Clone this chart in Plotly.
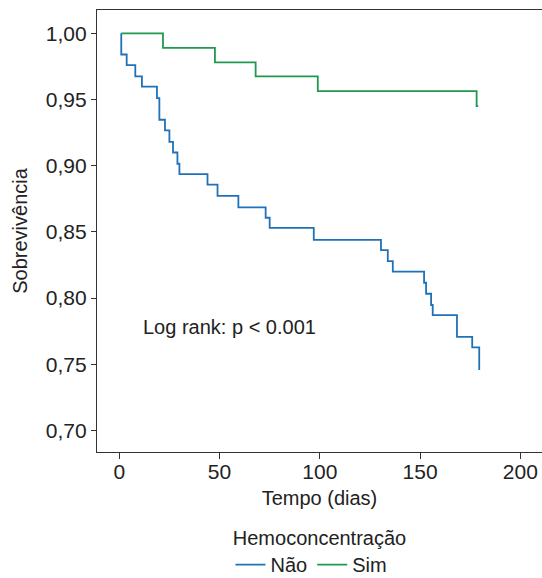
import plotly.graph_objects as go

# Kaplan-Meier step data (days, survival)
nao_t = [1, 1, 3.7, 8, 11.3, 18.8, 20, 22.8, 25, 26.8, 29, 30, 44, 49, 59.4, 73, 75, 97,
         130.5, 133.9, 136.4, 152, 153, 155.5, 156.3, 168.4, 176, 179.5, 179.5]
nao_s = [1.0, 0.984, 0.976, 0.9675, 0.9597, 0.951, 0.9347, 0.9267, 0.918, 0.910, 0.9015,
         0.8937, 0.8857, 0.8773, 0.8686, 0.8607, 0.853, 0.844, 0.8363, 0.828, 0.820,
         0.8116, 0.8033, 0.7948, 0.7872, 0.7708, 0.7628, 0.7457, 0.7457]

sim_t = [1, 21.8, 47.7, 68, 99, 178.2, 179]
sim_s = [1.0, 0.989, 0.978, 0.9675, 0.9564, 0.945, 0.945]

x_ticks = [0, 50, 100, 150, 200]
y_ticks = [0.70, 0.75, 0.80, 0.85, 0.90, 0.95, 1.00]
y_labels = ["0,70", "0,75", "0,80", "0,85", "0,90", "0,95", "1,00"]

FONT = "Liberation Sans, Arial, sans-serif"
TXT = "#222222"

fig = go.Figure()
fig.add_trace(go.Scatter(x=nao_t, y=nao_s, mode="lines", name="Não",
                         line=dict(color="#1f72b8", width=1.8, shape="hv")))
fig.add_trace(go.Scatter(x=sim_t, y=sim_s, mode="lines", name="Sim",
                         line=dict(color="#1e9a4e", width=1.8, shape="hv")))

fig.add_annotation(x=10.8, y=0.778, xref="x", yref="y", text="Log rank: p < 0.001",
                   showarrow=False, xanchor="left", yanchor="middle",
                   font=dict(size=20, color=TXT, family=FONT))

fig.update_layout(
    width=542, height=578,
    margin=dict(l=97, r=0, t=10, b=126, autoexpand=False),
    plot_bgcolor="white", paper_bgcolor="white",
    font=dict(family=FONT, size=20, color=TXT),
    showlegend=True,
    legend=dict(orientation="h", x=0.5, xanchor="center", y=-0.152, yanchor="top",
                title=dict(text="Hemoconcentração", side="top center",
                           font=dict(size=20, color=TXT)),
                font=dict(size=20, color=TXT), itemwidth=30,
                tracegroupgap=0),
    xaxis=dict(range=[-11.1, 210.8], tickvals=x_ticks, ticks="outside", ticklen=6,
               tickcolor="#333", showline=True, linecolor="#333", linewidth=1.2,
               mirror=True, showgrid=False, zeroline=False, ticklabelstandoff=-5,
               title=dict(text="Tempo (dias)", standoff=8, font=dict(size=20, color=TXT)),
               tickfont=dict(size=21, color=TXT)),
    yaxis=dict(range=[0.6838, 1.0176], tickvals=y_ticks, ticktext=y_labels,
               ticks="outside", ticklen=5, tickcolor="#333", showline=True,
               linecolor="#333", linewidth=1.2, mirror=False, showgrid=False,
               zeroline=False,
               title=dict(text="Sobrevivência", standoff=12, font=dict(size=20, color=TXT)),
               tickfont=dict(size=21, color=TXT)),
)

fig.write_html("out.html")
